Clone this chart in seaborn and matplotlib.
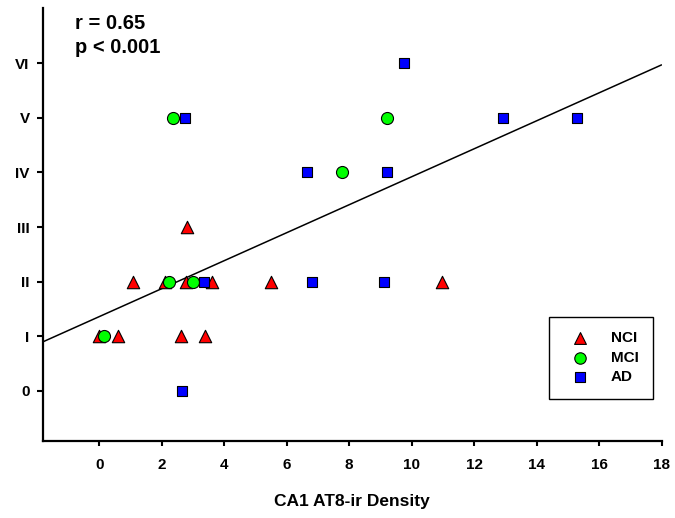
import numpy as np
import pandas as pd
import matplotlib
matplotlib.use("Agg")
import matplotlib.pyplot as plt
import seaborn as sns

# Braak stage vs CA1 AT8-ir density
nci_x = [0.0, 0.59, 2.61, 3.38, 1.09, 2.1, 2.77, 3.6, 5.51, 10.96, 2.8]
nci_y = [1, 1, 1, 1, 2, 2, 2, 2, 2, 2, 3]
mci_x = [0.16, 2.24, 2.99, 7.78, 2.36, 9.2]
mci_y = [1, 2, 2, 4, 5, 5]
ad_x = [2.66, 3.35, 6.82, 9.12, 6.64, 9.2, 2.74, 12.93, 15.28, 9.76]
ad_y = [0, 2, 2, 2, 4, 4, 5, 5, 5, 6]

groups = ["NCI", "MCI", "AD"]
stage_labels = ["0", "I", "II", "III", "IV", "V", "VI"]
x_ticks = [0, 2, 4, 6, 8, 10, 12, 14, 16, 18]

# regression line as drawn in the figure
fit_intercept = 1.36
fit_slope = 0.256
stats_text = "r = 0.65\np < 0.001"

df = pd.concat([
    pd.DataFrame({"density": nci_x, "stage": nci_y, "group": "NCI"}),
    pd.DataFrame({"density": mci_x, "stage": mci_y, "group": "MCI"}),
    pd.DataFrame({"density": ad_x, "stage": ad_y, "group": "AD"}),
])

sns.set_style("ticks")
plt.rcParams['font.family'] = ['Liberation Sans', 'DejaVu Sans']
plt.rcParams['font.weight'] = 'bold'
for k in ["text.color", "axes.labelcolor", "xtick.color", "ytick.color"]:
    plt.rcParams[k] = "black"

fig = plt.figure(figsize=(6.75, 5.18), dpi=100)
ax = fig.add_axes([0.064, 0.1486, 0.916, 0.836])

xlim = (-1.79, 18)
xx = np.array(xlim)
ax.plot(xx, fit_intercept + fit_slope * xx, color="black", lw=1.1, zorder=1)

pal = {"NCI": "#ff0000", "MCI": "#00ff00", "AD": "#0000ff"}
mk = {"NCI": "^", "MCI": "o", "AD": "s"}
sizes = {"NCI": 80, "MCI": 75, "AD": 60}
for g in groups:
    sub = df[df.group == g]
    sns.scatterplot(data=sub, x="density", y="stage", color=pal[g], marker=mk[g],
                    s=sizes[g], edgecolor="black", linewidth=0.8, ax=ax, label=g,
                    zorder=3)

ax.set_xlim(*xlim)
ax.set_ylim(-0.916, 7.01)
ax.set_xticks(x_ticks)
ax.set_xticklabels([str(t) for t in x_ticks], fontsize=11, fontweight="bold")
ax.set_yticks(range(len(stage_labels)))
ax.set_yticklabels(stage_labels, fontsize=11, fontweight="bold")
ax.tick_params(axis="x", direction="out", length=3.5, width=1.5, pad=9)
ax.tick_params(axis="y", direction="out", length=4.3, width=1.5, pad=5.5)
for s in ["top", "right"]:
    ax.spines[s].set_visible(False)
for s in ["left", "bottom"]:
    ax.spines[s].set_linewidth(1.6)
    ax.spines[s].set_color("black")

ax.set_xlabel("CA1 AT8-ir Density", fontsize=12.5, fontweight="bold", labelpad=15.5)
ax.set_ylabel("")

fig.text(75 / 675, 1 - 14 / 518, stats_text, fontsize=14.5,
         fontweight="bold", va="top", ha="left", linespacing=1.36)

handles, labels = ax.get_legend_handles_labels()
leg = ax.legend(handles, labels, loc="lower right",
                bbox_to_anchor=(653 / 675, 1 - 399 / 518),
                bbox_transform=fig.transFigure, borderaxespad=0,
                frameon=True, fancybox=False, edgecolor="black", framealpha=1,
                prop={"weight": "bold", "size": 11}, borderpad=0.95,
                handlelength=2.2, handletextpad=0.9, labelspacing=0.36,
                markerscale=0.95)
leg.get_frame().set_linewidth(1)

fig.savefig("out.png", dpi=100)
